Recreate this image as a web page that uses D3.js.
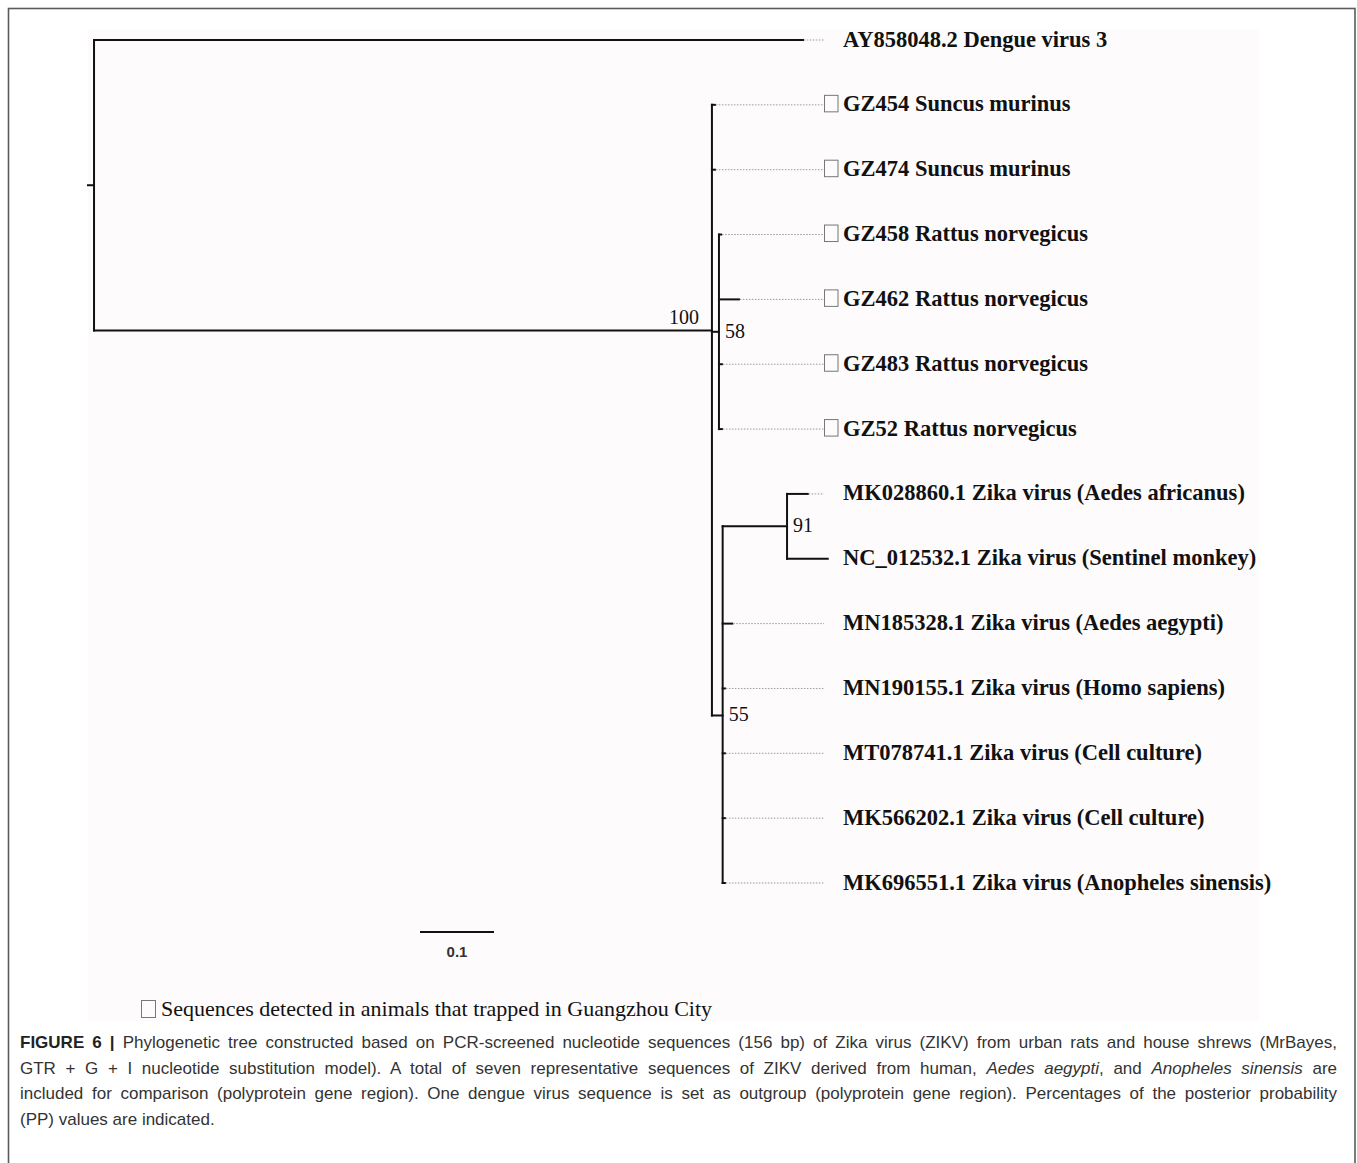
<!DOCTYPE html>
<html>
<head>
<meta charset="utf-8">
<script src="https://cdn.jsdelivr.net/npm/d3@7"></script>
<style>
  html, body { margin: 0; padding: 0; background: #fff; }
  #wrap { position: relative; width: 1357px; height: 1163px; overflow: hidden; }
  svg { position: absolute; left: 0; top: 0; display: block; }
  #caption { position: absolute; left: 20px; top: 1030px; width: 1317px;
    font-family: "Liberation Sans", Arial, sans-serif; font-size: 17px; line-height: 25.7px; color: #333; }
  #caption .ln { white-space: nowrap; text-align: justify; text-align-last: justify; }
  #caption .ln.last { text-align: left; text-align-last: left; }
  #caption b { color: #222; }
</style>
</head>
<body>
<div id="wrap">
<svg id="chart" width="1357" height="1163"></svg>
<div id="caption"></div>
</div>
<script>
// ---------------- data ----------------
const nodeIds = ["root", "AY858048.2", "n100", "GZ454", "GZ474", "n58", "GZ458", "GZ462", "GZ483", "GZ52",
  "n55", "n91", "MK028860.1", "NC_012532.1", "MN185328.1", "MN190155.1", "MT078741.1", "MK566202.1", "MK696551.1"];
const nodeParents = ["", "root", "root", "n100", "n100", "n100", "n58", "n58", "n58", "n58",
  "n100", "n55", "n91", "n91", "n55", "n55", "n55", "n55", "n55"];
const branchLengths = [0.0095, 0.958, 0.835, 0.004, 0.004, 0.0095, 0.003, 0.027, 0.004, 0.004,
  0.0145, 0.087, 0.028, 0.055, 0.013, 0.003, 0.003, 0.003, 0.003];
const posteriorSupport = [null, null, 100, null, null, 58, null, null, null, null,
  55, 91, null, null, null, null, null, null, null];

const leafIds = ["AY858048.2", "GZ454", "GZ474", "GZ458", "GZ462", "GZ483", "GZ52",
  "MK028860.1", "NC_012532.1", "MN185328.1", "MN190155.1", "MT078741.1", "MK566202.1", "MK696551.1"];
const leafNames = ["AY858048.2 Dengue virus 3", "GZ454 Suncus murinus", "GZ474 Suncus murinus",
  "GZ458 Rattus norvegicus", "GZ462 Rattus norvegicus", "GZ483 Rattus norvegicus", "GZ52 Rattus norvegicus",
  "MK028860.1 Zika virus (Aedes africanus)", "NC_012532.1 Zika virus (Sentinel monkey)",
  "MN185328.1 Zika virus (Aedes aegypti)", "MN190155.1 Zika virus (Homo sapiens)",
  "MT078741.1 Zika virus (Cell culture)", "MK566202.1 Zika virus (Cell culture)",
  "MK696551.1 Zika virus (Anopheles sinensis)"];
const detectedInGuangzhou = [false, true, true, true, true, true, true,
  false, false, false, false, false, false, false];

const scaleBarValue = 0.1;
const scaleBarLabel = "0.1";
const legendText = "Sequences detected in animals that trapped in Guangzhou City";

const captionLines = [
  [["b", "FIGURE 6 |"], ["", " Phylogenetic tree constructed based on PCR-screened nucleotide sequences (156 bp) of Zika virus (ZIKV) from urban rats and house shrews (MrBayes,"]],
  [["", "GTR + G + I nucleotide substitution model). A total of seven representative sequences of ZIKV derived from human, "], ["i", "Aedes aegypti"], ["", ", and "], ["i", "Anopheles sinensis"], ["", " are"]],
  [["", "included for comparison (polyprotein gene region). One dengue virus sequence is set as outgroup (polyprotein gene region). Percentages of the posterior probability"]],
  [["", "(PP) values are indicated."]]
];

// ---------------- layout ----------------
const svg = d3.select("#chart");

// outer frame & panel background
svg.append("rect").attr("x", 8.5).attr("y", 8.5).attr("width", 1346.5).attr("height", 1250)
  .attr("fill", "none").attr("stroke", "#5a5a5a").attr("stroke-width", 1.6);
svg.append("rect").attr("x", 88).attr("y", 30).attr("width", 1171).attr("height", 991)
  .attr("fill", "#fdfbfc");

const table = nodeIds.map((id, i) => ({ id, parent: nodeParents[i] || null, len: branchLengths[i], support: posteriorSupport[i] }));
const root = d3.stratify().id(d => d.id).parentId(d => d.parent)(table);

// cumulative distance
root.eachBefore(n => { n.dist = (n.parent ? n.parent.dist : 0) + n.data.len; });

const x = d3.scaleLinear().domain([0, 1]).range([87, 827]);
const y = d3.scalePoint().domain(leafIds).range([40, 883]).padding(0);

root.eachAfter(n => {
  n.px = x(n.dist);
  if (!n.children) n.py = y(n.id);
  else n.py = d3.mean(n.children, c => c.py);
});

const g = svg.append("g");
const branchColor = "#111";

// root stub
g.append("line").attr("x1", x(0)).attr("x2", root.px).attr("y1", root.py).attr("y2", root.py)
  .attr("stroke", branchColor).attr("stroke-width", 2);

// horizontal branches
g.selectAll("line.hbranch").data(root.descendants().filter(d => d.parent)).join("line")
  .attr("class", "hbranch")
  .attr("x1", d => d.parent.px).attr("x2", d => d.px)
  .attr("y1", d => d.py).attr("y2", d => d.py)
  .attr("stroke", branchColor).attr("stroke-width", 2).attr("stroke-linecap", "square");

// vertical connectors
g.selectAll("line.vbranch").data(root.descendants().filter(d => d.children)).join("line")
  .attr("class", "vbranch")
  .attr("x1", d => d.px).attr("x2", d => d.px)
  .attr("y1", d => d3.min(d.children, c => c.py)).attr("y2", d => d3.max(d.children, c => c.py))
  .attr("stroke", branchColor).attr("stroke-width", 2).attr("stroke-linecap", "square");

// dotted leaders
const leaderEnd = 824;
const leaves = root.leaves();
g.selectAll("line.leader").data(leaves.filter(d => d.px < leaderEnd)).join("line")
  .attr("class", "leader")
  .attr("x1", d => d.px + 1).attr("x2", leaderEnd)
  .attr("y1", d => d.py).attr("y2", d => d.py)
  .attr("stroke", "#9a9a9a").attr("stroke-width", 1).attr("stroke-dasharray", "1.5,1.5");

// boxes for detected sequences
g.selectAll("rect.mark").data(leaves.filter(d => detectedInGuangzhou[leafIds.indexOf(d.id)])).join("rect")
  .attr("class", "mark")
  .attr("x", 824.5).attr("y", d => d.py - 9.5).attr("width", 13.5).attr("height", 16.5)
  .attr("fill", "none").attr("stroke", "#777").attr("stroke-width", 1);

// leaf labels
g.selectAll("text.leaf").data(leaves).join("text")
  .attr("class", "leaf")
  .attr("x", 843).attr("y", d => d.py + 6.5)
  .attr("font-family", "'Liberation Serif', 'Times New Roman', serif")
  .attr("font-weight", "bold").attr("font-size", 22.5).attr("fill", "#111")
  .text(d => leafNames[leafIds.indexOf(d.id)]);

// support values
g.selectAll("text.support").data(root.descendants().filter(d => d.data.support != null)).join("text")
  .attr("class", "support")
  .attr("font-family", "'Liberation Serif', 'Times New Roman', serif")
  .attr("font-size", 20).attr("fill", "#111")
  .attr("x", d => d.depth === 1 ? d.px - 13 : d.px + 6)
  .attr("y", d => d.depth === 1 ? d.py - 6 : d.py + 6)
  .attr("text-anchor", d => d.depth === 1 ? "end" : "start")
  .text(d => d.data.support);

// scale bar
const sbX = 420, sbY = 932;
svg.append("line").attr("x1", sbX).attr("x2", sbX + (x(scaleBarValue) - x(0)))
  .attr("y1", sbY).attr("y2", sbY).attr("stroke", "#111").attr("stroke-width", 2);
svg.append("text").attr("x", sbX + (x(scaleBarValue) - x(0)) / 2).attr("y", 957)
  .attr("text-anchor", "middle").attr("font-family", "'Liberation Sans', Arial, sans-serif")
  .attr("font-size", 15).attr("font-weight", "bold").attr("fill", "#333").text(scaleBarLabel);

// legend
svg.append("rect").attr("x", 141.5).attr("y", 1000.5).attr("width", 14).attr("height", 17)
  .attr("fill", "none").attr("stroke", "#777").attr("stroke-width", 1);
svg.append("text").attr("x", 161).attr("y", 1016)
  .attr("font-family", "'Liberation Serif', 'Times New Roman', serif")
  .attr("font-size", 22).attr("fill", "#111").text(legendText);

// caption
const cap = d3.select("#caption");
captionLines.forEach((parts, i) => {
  const ln = cap.append("div").attr("class", "ln" + (i === captionLines.length - 1 ? " last" : ""));
  parts.forEach(([tag, txt]) => {
    if (tag === "b") ln.append("b").text(txt);
    else if (tag === "i") ln.append("i").text(txt);
    else ln.append("span").text(txt);
  });
});
</script>
</body>
</html>
